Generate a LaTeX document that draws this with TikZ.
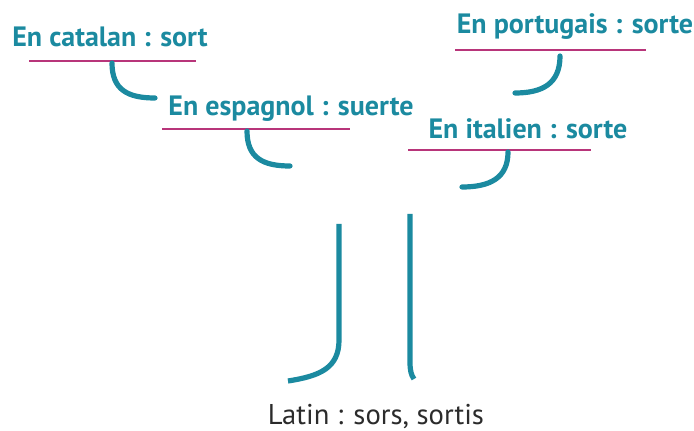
\documentclass[tikz,border=0pt]{standalone}
\usepackage{fontspec}
\setmainfont{PT Sans}
\definecolor{teal}{HTML}{1B8AA0}
\definecolor{plum}{HTML}{B8357A}
\definecolor{ink}{HTML}{2B2B2B}
\tikzset{
    word/.style={text=teal, font=\bfseries\fontsize{14}{16}\selectfont, inner sep=0pt, anchor=base},
    root/.style={text=ink, font=\fontsize{14.3}{16}\selectfont, inner sep=0pt, anchor=base},
    bar/.style={draw=plum, line width=1.3pt},
    hook/.style={draw=teal, line width=2.6pt, line cap=round},
}
\begin{document}
\begin{tikzpicture}[x=0.5pt, y=-0.5pt]
        \useasboundingbox (0,0) rectangle (694,431);
        % the words
        \node[word] (catalan) at (110,47) {En catalan : sort};
        \node[word] (espagnol) at (291,116) {En espagnol : suerte};
        \node[word] (portugais) at (575,34) {En portugais : sorte};
        \node[word] (italien) at (528,139) {En italien : sorte};
        \node[root] (latin) at (376,424) {Latin : sors, sortis};

        % lines under the words
        \draw[bar] (29,61) -- (196,61);
        \draw[bar] (162,129) -- (350,129);
        \draw[bar] (455,50) -- (646,50);
        \draw[bar] (408,150) -- (591,150);

        % hooks
        \draw[hook] (112,63) .. controls (112,90) and (128,98) .. (155,98);
        \draw[hook] (247,131) .. controls (247,158) and (263,166) .. (290,166);
        \draw[hook] (560,56) .. controls (560,84) and (542,93) .. (515,93);
        \draw[hook] (508,152) .. controls (508,178) and (490,187) .. (462,187);

        % trunk
        \draw[hook, line cap=butt] (339,224) -- (339,340) .. controls (339,368) and (320,376) .. (288,381);
        \draw[hook, line cap=butt] (410,214) -- (410,362) .. controls (410,370) and (411,375) .. (414,379);
    \end{tikzpicture}
\end{document}
